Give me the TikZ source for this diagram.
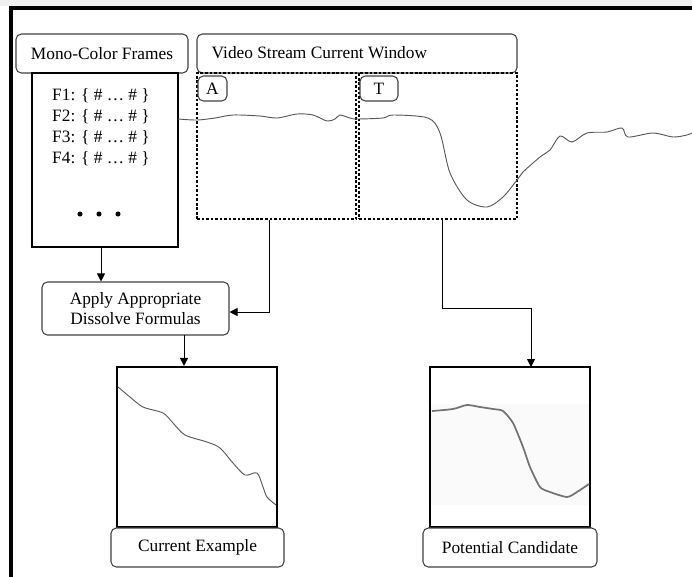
\documentclass[tikz,border=0pt]{standalone}
\usepackage{fontspec}
\setmainfont{Liberation Serif}
\usetikzlibrary{arrows.meta}

\begin{document}
\begin{tikzpicture}[x=0.75pt,y=-0.75pt,font=\fontsize{13}{15}\selectfont,
  caption/.style={draw=black!75,rounded corners=4pt,line width=0.8pt,inner sep=0pt},
  frame/.style={draw,line width=1.6pt,inner sep=0pt},
  window/.style={draw,dash pattern=on 2pt off 1.4pt,line width=2pt,inner sep=0pt},
  link/.style={-{Triangle[length=6pt,width=6pt]},line width=0.7pt},
  signal/.style={line width=0.7pt,black!65}]

\useasboundingbox (0,0) rectangle (692,576);
\fill[gray!12] (0,0) rectangle (692,6);
\draw[line width=2.6pt] (11,580) -- (11,8) -- (696,8);

\node[caption,minimum width=129pt,minimum height=29.25pt] (mono) at (102,53.5) {Mono-Color Frames};
\node[frame,minimum width=109.5pt,minimum height=130.5pt] (frames) at (105,160) {};
\node (f1) at (101,96) {F1: \{ \# \ldots\ \# \}};
\node (f2) at (101,117) {F2: \{ \# \ldots\ \# \}};
\node (f3) at (101,138) {F3: \{ \# \ldots\ \# \}};
\node (f4) at (101,159) {F4: \{ \# \ldots\ \# \}};
\fill (80,214) circle (1.9pt) (99,214) circle (1.9pt) (118,214) circle (1.9pt);

\node[caption,minimum width=240pt,minimum height=29.25pt] (video) at (357,53.5) {};
\node[anchor=west] (videotext) at (207,53) {Video Stream Current Window};
\node[window,minimum width=119.25pt,minimum height=109.5pt] (wina) at (276.5,146) {};
\node[window,minimum width=118.5pt,minimum height=109.5pt] (wint) at (438,146) {};
\node[caption,minimum width=21.75pt,minimum height=18.75pt] (la) at (212.5,88.5) {A};
\node[caption,minimum width=28.5pt,minimum height=18.75pt] (lt) at (379,88.5) {T};

\draw[signal] plot[smooth,tension=0.5] coordinates {(178,119) (197,120) (215,118) (233,115)
  (260,116) (277,118) (297,114) (313,115) (327,121) (335,119) (340,115) (350,118)
  (357,119) (383,118) (393,115) (428,118) (440,133) (450,173) (467,200) (487,207)
  (503,197) (517,180) (523,172) (540,157) (550,150) (560,136) (572,142) (587,133)
  (607,132) (622,128) (628,137) (653,133) (673,137) (687,135) (692,133)};

\node[caption,minimum width=140.25pt,minimum height=39.75pt,align=center] (apply) at (135.5,308.5) {Apply Appropriate\\Dissolve Formulas};

\node[frame,minimum width=120pt,minimum height=120pt] (curframe) at (197,447) {};
\node[caption,minimum width=129.75pt,minimum height=29.25pt] (curlabel) at (197.5,547.5) {Current Example};
\draw[signal] plot[smooth,tension=0.5] coordinates {(118,387) (130,397) (143,407) (163,413)
  (173,423) (185,435) (207,442) (220,448) (233,463) (245,475) (257,473) (263,487)
  (267,497) (276,505)};

\fill[gray!4] (431,404) rectangle (589,505);
\node[frame,minimum width=120pt,minimum height=120pt] (candframe) at (510,447) {};
\node[caption,minimum width=130.5pt,minimum height=29.25pt] (candlabel) at (510,547.5) {Potential Candidate};
\draw[line width=1.3pt,black!55] plot[smooth,tension=0.4] coordinates {(432,411) (453,409)
  (467,405) (480,407) (493,409) (503,411) (513,423) (523,447) (530,467) (540,487)
  (550,492) (567,497) (577,492) (589,484)};

\coordinate (dropa) at (184,335);
\coordinate (candin) at (531,367);
\draw[link] (frames.south -| 101,0) -- (apply.north -| 101,0);
\draw[link] (wina.south -| 269,0) |- (apply.east |- 0,312);
\draw[link] (dropa) -- (dropa |- curframe.north);
\draw[link] (wint.south -| 442,0) |- (0,308 -| candin) -- (candin);
\end{tikzpicture}
\end{document}
